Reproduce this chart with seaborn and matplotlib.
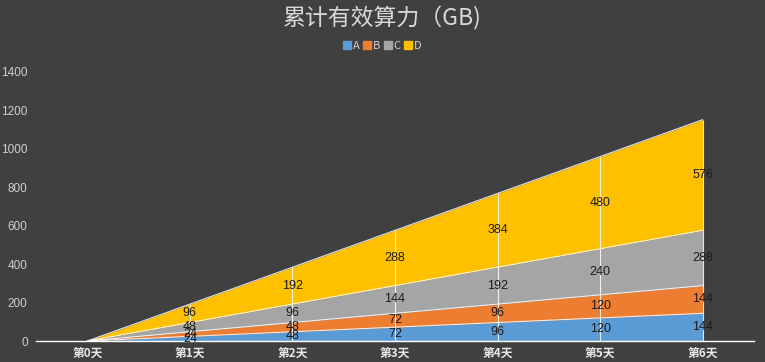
import numpy as np
import pandas as pd
import matplotlib
matplotlib.use("Agg")
import matplotlib.pyplot as plt
import seaborn as sns

days = ["第0天", "第1天", "第2天", "第3天", "第4天", "第5天", "第6天"]
series_names = ["A", "B", "C", "D"]
a_vals = [0, 24, 48, 72, 96, 120, 144]
b_vals = [0, 24, 48, 72, 96, 120, 144]
c_vals = [0, 48, 96, 144, 192, 240, 288]
d_vals = [0, 96, 192, 288, 384, 480, 576]
colors = ["#5B9BD5", "#ED7D31", "#A5A5A5", "#FFC000"]
yticks = [0, 200, 400, 600, 800, 1000, 1200, 1400]

bg = "#404040"
sns.set_style("dark", {"axes.facecolor": bg, "figure.facecolor": bg})
plt.rcParams["font.family"] = ["Noto Sans CJK SC", "DejaVu Sans"]

fig = plt.figure(figsize=(7.65, 3.62), dpi=100)
ax = fig.add_axes([36 / 765, 21 / 362, 718 / 765, 269 / 362])
ax.set_facecolor(bg)

x = np.arange(len(days))
data = np.array([a_vals, b_vals, c_vals, d_vals], dtype=float)
cum = np.cumsum(data, axis=0)

ax.stackplot(x, data, colors=colors, linewidth=0)

# white boundary lines on top of each layer
long = pd.DataFrame({
    "x": np.tile(x, len(series_names)),
    "y": cum.ravel(),
    "s": np.repeat(series_names, len(days)),
})
sns.lineplot(data=long, x="x", y="y", units="s", estimator=None,
             color="white", linewidth=0.8, alpha=0.85, ax=ax, legend=False)

# vertical drop lines at each category
ax.vlines(x[1:], 0, cum[-1][1:], color="white", linewidth=0.8, alpha=0.85)

# value labels centred in each band
for i in range(len(series_names)):
    lower = cum[i] - data[i]
    for j in range(1, len(days)):
        ax.text(x[j], (lower[j] + cum[i][j]) / 2, f"{int(data[i][j])}",
                ha="center", va="center", fontsize=9, color="#1a1a1a",
                family=["Liberation Sans", "DejaVu Sans"])

ax.set_xlim(-0.5, len(days) - 0.5)
ax.set_ylim(0, 1400)
ax.set_yticks(yticks)
ax.set_yticklabels([str(v) for v in yticks], color="#cfcfcf", fontsize=8.5,
                   family=["Liberation Sans", "DejaVu Sans"])
ax.set_xticks(x)
ax.set_xticklabels(days, color="#e8e8e8", fontsize=8.5, fontweight="bold")
ax.set_xticks(np.arange(-0.5, len(days)), minor=True)
ax.tick_params(axis="x", which="major", length=0, pad=4)
ax.tick_params(axis="x", which="minor", length=4, color="white", direction="out")
ax.tick_params(axis="y", length=0, pad=6)
ax.grid(False)
for side in ["top", "right", "left"]:
    ax.spines[side].set_visible(False)
ax.spines["bottom"].set_color("white")
ax.spines["bottom"].set_linewidth(1)
ax.set_xlabel("")
ax.set_ylabel("")

fig.text(0.5, 0.95, "累计有效算力（GB)", ha="center", va="center",
         fontsize=16.5, color="#d9d9d9")

handles = [plt.Rectangle((0, 0), 1, 1, color=c) for c in colors]
fig.legend(handles, series_names, loc="center", bbox_to_anchor=(0.5, 0.873),
           ncol=4, frameon=False, fontsize=8, labelcolor="#d0d0d0",
           handlelength=0.7, handleheight=0.7, handletextpad=0.2,
           columnspacing=0.3)

fig.savefig("out.png", dpi=100, facecolor=bg)
